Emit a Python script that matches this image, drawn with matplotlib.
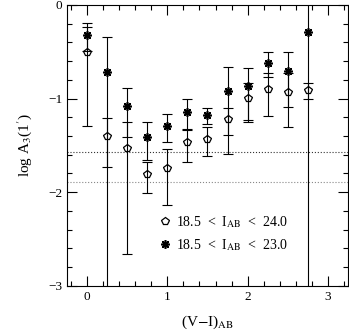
import numpy as np
import matplotlib
matplotlib.use('Agg')
import matplotlib.pyplot as plt
from matplotlib.ticker import MultipleLocator

plt.rcParams['font.family'] = ['Liberation Serif', 'DejaVu Serif']
plt.rcParams['mathtext.fontset'] = 'stix'

# colour bins (V-I)_AB
colour = [0.0, 0.25, 0.5, 0.75, 1.0, 1.25, 1.5, 1.75, 2.0, 2.25, 2.5, 2.75]

# A_3(1') and its error, 18.5 < I_AB < 24.0 (pentagons)
a3_faint = [0.313, 0.0402, 0.0294, 0.0155, 0.018, 0.0341, 0.0372, 0.0605, 0.1007, 0.1259, 0.1186, 0.1236]
sig_faint = [0.262, 0.0217, 0.0272, 0.0057, 0.0108, 0.0129, 0.0129, 0.0197, 0.0445, 0.0607, 0.0685, 0.0245]

# A_3(1') and its error, 18.5 < I_AB < 23.0 (asterisks)
a3_bright = [0.4786, 0.1905, 0.0839, 0.0392, 0.0513, 0.0724, 0.0668, 0.1216, 0.1365, 0.242, 0.197, 0.51]
sig_bright = [0.158, 0.269, 0.0449, 0.0174, 0.0166, 0.0258, 0.0132, 0.096, 0.077, 0.073, 0.1154, 0.55]

# dotted reference levels
noise_levels = [-1.57, -1.89]
noise_colours = ['#333333', '#888888']

label_faint = r'18.5  <  I$_{\rm AB}$  <  24.0'
label_bright = r'18.5  <  I$_{\rm AB}$  <  23.0'


def log_errs(a, s):
    a = np.array(a)
    s = np.array(s)
    lo = np.clip(a - s, 1e-8, None)
    y = np.log10(a)
    return y, [y - np.log10(lo), np.log10(a + s) - y]


fig = plt.figure(figsize=(3.49, 3.33), dpi=100)
ax = fig.add_axes([0.192, 0.142, 0.805, 0.843])

for lev, c in zip(noise_levels, noise_colours):
    ax.axhline(lev, color=c, lw=0.8, ls=':')

y_f, e_f = log_errs(a3_faint, sig_faint)
y_b, e_b = log_errs(a3_bright, sig_bright)

ax.errorbar(colour, y_f, yerr=e_f, fmt='none', ecolor='black', elinewidth=0.8,
            capsize=3.3, capthick=0.8)
ax.errorbar(colour, y_b, yerr=e_b, fmt='none', ecolor='black', elinewidth=0.8,
            capsize=3.3, capthick=0.8)

ax.plot(colour, y_f, ls='none', marker='p', ms=5.8, mfc='none', mec='black', mew=0.9,
        label=label_faint)
ax.plot(colour, y_b, ls='none', marker=(8, 2, 0), ms=6.2, mec='black', mew=1.2,
        label=label_bright)

ax.set_xlim(-0.25, 3.25)
ax.set_ylim(-3, 0)
ax.xaxis.set_major_locator(MultipleLocator(1))
ax.xaxis.set_minor_locator(MultipleLocator(0.2))
ax.yaxis.set_major_locator(MultipleLocator(1))
ax.yaxis.set_minor_locator(MultipleLocator(0.2))
ax.tick_params(which='both', direction='in', top=True, right=True, labelsize=9.5)
ax.tick_params(which='major', length=7, width=0.8)
ax.tick_params(which='minor', length=3.5, width=0.8)
for sp in ax.spines.values():
    sp.set_linewidth(0.8)

ax.set_xlabel(r'(V$-$I)$_{\rm AB}$', fontsize=11, labelpad=8)
ax.set_ylabel(r"log A$_3$(1$'$)", fontsize=11, labelpad=10)

ax.legend(loc='upper left', bbox_to_anchor=(0.31, 0.276), frameon=False,
          fontsize=10, handlelength=0.8, handletextpad=0.4, labelspacing=0.55,
          borderaxespad=0)

fig.savefig('out.png', dpi=100)
